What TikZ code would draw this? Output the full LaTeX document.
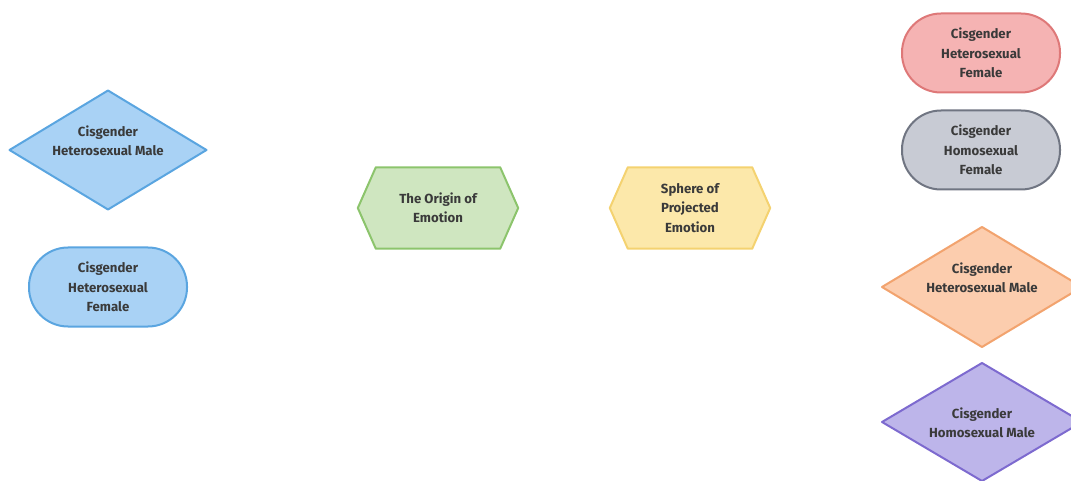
\documentclass[tikz,border=0pt]{standalone}
\usepackage{fontspec}
\setmainfont{Fira Sans}
\usetikzlibrary{backgrounds,calc}
\definecolor{txt}{HTML}{3A3A3A}
\definecolor{bluefill}{HTML}{A9D2F5}
\definecolor{blueline}{HTML}{5AA5E0}
\definecolor{greenfill}{HTML}{CFE6C0}
\definecolor{greenline}{HTML}{8CC46C}
\definecolor{yelfill}{HTML}{FCE8AA}
\definecolor{yelline}{HTML}{F4D270}
\definecolor{redfill}{HTML}{F5B3B3}
\definecolor{redline}{HTML}{DE7878}
\definecolor{grayfill}{HTML}{C8CBD4}
\definecolor{grayline}{HTML}{707582}
\definecolor{orfill}{HTML}{FCCDAE}
\definecolor{orline}{HTML}{F2A36E}
\definecolor{pufill}{HTML}{BDB5EA}
\definecolor{puline}{HTML}{7D6ACF}
\tikzset{
  lbl/.style={text=txt, align=center, inner sep=0pt, font=\fontsize{13.2}{19.5}\selectfont\bfseries},
  stad/.style={lbl, rectangle, draw, line width=2pt, rounded corners=39pt, minimum width=158pt, minimum height=79pt},
  shp/.style={line width=2pt, line join=round}
}
\begin{document}
\begin{tikzpicture}[x=1pt,y=-1pt]
\useasboundingbox (0,0) rectangle (1071,481);
\node[lbl] (chm) at (108,141) {Cisgender\\Heterosexual Male};
\node[stad, fill=bluefill, draw=blueline] (chf) at (108,287) {Cisgender\\Heterosexual\\Female};
\node[lbl, minimum width=160pt, minimum height=81pt] (ori) at (438,208) {The Origin of\\Emotion};
\node[lbl, minimum width=160pt, minimum height=81pt] (sph) at (690,208) {Sphere of\\Projected\\Emotion};
\node[stad, fill=redfill, draw=redline] (rhf) at (981,53) {Cisgender\\Heterosexual\\Female};
\node[stad, fill=grayfill, draw=grayline] (rgf) at (981,150) {Cisgender\\Homosexual\\Female};
\node[lbl] (ohm) at (982,278) {Cisgender\\Heterosexual Male};
\node[lbl] (phm) at (982,423) {Cisgender\\Homosexual Male};
\begin{scope}[on background layer]
\draw[shp, fill=bluefill, draw=blueline]
  ($(chm)+(-98.5,9)$) -- ($(chm)+(0,-50.5)$) -- ($(chm)+(98.5,9)$) -- ($(chm)+(0,68.5)$) -- cycle;
\draw[shp, fill=orfill, draw=orline]
  ($(ohm)+(-100,9)$) -- ($(ohm)+(0,-51)$) -- ($(ohm)+(100,9)$) -- ($(ohm)+(0,69)$) -- cycle;
\draw[shp, fill=pufill, draw=puline]
  ($(phm)+(-100,-1)$) -- ($(phm)+(0,-60)$) -- ($(phm)+(100,-1)$) -- ($(phm)+(0,58)$) -- cycle;
\draw[shp, fill=greenfill, draw=greenline]
  (ori.west) -- ($(ori.north west)+(18,0)$) -- ($(ori.north east)+(-18,0)$) -- (ori.east)
  -- ($(ori.south east)+(-18,0)$) -- ($(ori.south west)+(18,0)$) -- cycle;
\draw[shp, fill=yelfill, draw=yelline]
  (sph.west) -- ($(sph.north west)+(18,0)$) -- ($(sph.north east)+(-18,0)$) -- (sph.east)
  -- ($(sph.south east)+(-18,0)$) -- ($(sph.south west)+(18,0)$) -- cycle;
\end{scope}
\end{tikzpicture}
\end{document}
